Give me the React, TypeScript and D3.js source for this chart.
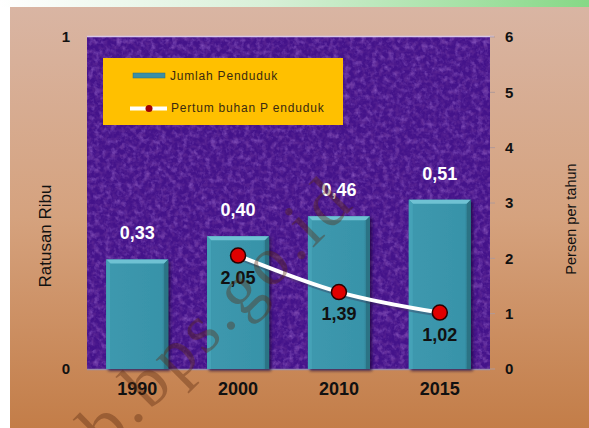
import * as d3 from 'd3';

const years = ['1990', '2000', '2010', '2015'];
const jumlah = [0.33, 0.4, 0.46, 0.51];
const jumlahLabels = ['0,33', '0,40', '0,46', '0,51'];
const growthYears = ['2000', '2010', '2015'];
const growth = [2.05, 1.39, 1.02];
const growthLabels = ['2,05', '1,39', '1,02'];
const leftTicks = [0, 1];
const rightTicks = [0, 1, 2, 3, 4, 5, 6];

const W = 589;
const H = 428;
const plot = { left: 87, right: 490, top: 37, bottom: 369 };
const font = '"Liberation Sans", Arial, sans-serif';

export default function App() {
  const x = d3
    .scaleBand<string>()
    .domain(years)
    .range([plot.left, plot.right])
    .paddingInner(0.385)
    .paddingOuter(0.19);
  const yL = d3.scaleLinear().domain([0, 1]).range([plot.bottom, plot.top]);
  const yR = d3.scaleLinear().domain([0, 6]).range([plot.bottom, plot.top]);
  const bw = x.bandwidth();

  const pts: [number, number][] = growthYears.map((yr, i) => [
    (x(yr) as number) + bw / 2,
    yR(growth[i]),
  ]);
  const line = d3.line().curve(d3.curveMonotoneX)(pts) as string;

  return (
    <svg
      width={W}
      height={H}
      style={{ position: 'absolute', left: 0, top: 0 }}
      fontFamily={font}
    >
      <defs>
        <linearGradient id="bg" x1="0" y1="0" x2="0" y2="1">
          <stop offset="0" stopColor="#d9b5a3" />
          <stop offset="0.5" stopColor="#d5a27e" />
          <stop offset="1" stopColor="#c37d48" />
        </linearGradient>
        <linearGradient id="strip" x1="0" y1="0" x2="1" y2="0">
          <stop offset="0" stopColor="#ffffff" />
          <stop offset="0.45" stopColor="#d8f0d8" />
          <stop offset="1" stopColor="#86d886" />
        </linearGradient>
        <linearGradient id="barg" x1="0" y1="0" x2="1" y2="0">
          <stop offset="0" stopColor="#3a8fa3" />
          <stop offset="0.08" stopColor="#3d98ae" />
          <stop offset="0.9" stopColor="#3893a9" />
          <stop offset="1" stopColor="#2a6e80" />
        </linearGradient>
        <filter id="tex" x="0" y="0" width="100%" height="100%">
          <feTurbulence type="fractalNoise" baseFrequency="0.18" numOctaves="3" seed="3" />
          <feColorMatrix
            type="matrix"
            values="0 0 0 0 0.4  0 0 0 0 0.18  0 0 0 0 0.68  1.3 0 0 0 -0.6"
          />
        </filter>
        <filter id="tex2" x="0" y="0" width="100%" height="100%">
          <feTurbulence type="fractalNoise" baseFrequency="0.24" numOctaves="2" seed="8" />
          <feColorMatrix
            type="matrix"
            values="0 0 0 0 0.14  0 0 0 0 0.03  0 0 0 0 0.32  1.4 0 0 0 -0.58"
          />
        </filter>
        <filter id="shadow" x="-20%" y="-20%" width="140%" height="140%">
          <feDropShadow dx="2" dy="2" stdDeviation="1.5" floodColor="#1a0630" floodOpacity="0.7" />
        </filter>
      </defs>

      <rect x={0} y={0} width={W} height={H} fill="#ffffff" />
      <rect x={10} y={7} width={W - 10} height={H - 7} fill="url(#bg)" />
      <rect x={0} y={0} width={W} height={7} fill="url(#strip)" />

      {/* plot area */}
      <rect
        x={plot.left}
        y={plot.top}
        width={plot.right - plot.left}
        height={plot.bottom - plot.top}
        fill="#44138a"
      />
      <rect
        x={plot.left}
        y={plot.top}
        width={plot.right - plot.left}
        height={plot.bottom - plot.top}
        filter="url(#tex)"
      />
      <rect
        x={plot.left}
        y={plot.top}
        width={plot.right - plot.left}
        height={plot.bottom - plot.top}
        filter="url(#tex2)"
      />
      <line x1={plot.left} x2={plot.right + 4} y1={plot.top - 0.5} y2={plot.top - 0.5} stroke="#d8c8e8" strokeWidth={1.5} />
      <line x1={plot.left} x2={plot.right} y1={plot.bottom + 0.5} y2={plot.bottom + 0.5} stroke="#9c8aa8" strokeWidth={1.5} />

      {/* right axis ticks */}
      {rightTicks.map((t) => (
        <g key={t}>
          <line x1={plot.right} x2={plot.right + 5} y1={yR(t)} y2={yR(t)} stroke="#b09a98" strokeWidth={1} />
          <text x={505} y={yR(t)} dy="0.36em" fontSize={15} fontWeight="bold" fill="#111">
            {t}
          </text>
        </g>
      ))}
      {leftTicks.map((t) => (
        <text key={t} x={66} y={yL(t)} dy="0.36em" fontSize={15} fontWeight="bold" fill="#111" textAnchor="middle">
          {t}
        </text>
      ))}

      {/* bars */}
      {years.map((yr, i) => {
        const bx = x(yr) as number;
        const by = yL(jumlah[i]);
        const bh = plot.bottom - by;
        const b = 4;
        return (
          <g key={yr}>
            <rect x={bx} y={by} width={bw} height={bh} fill="url(#barg)" filter="url(#shadow)" />
            <polygon
              points={`${bx},${by} ${bx + bw},${by} ${bx + bw - b},${by + b} ${bx + b},${by + b}`}
              fill="#6fc2d3"
            />
            <polygon
              points={`${bx + bw},${by} ${bx + bw},${plot.bottom} ${bx + bw - b},${plot.bottom} ${bx + bw - b},${by + b}`}
              fill="#2b7384"
            />
            <polygon
              points={`${bx},${by} ${bx + b},${by + b} ${bx + b},${plot.bottom} ${bx},${plot.bottom}`}
              fill="#45a2b7"
            />
            <text
              x={bx + bw / 2}
              y={by - 20}
              fontSize={18}
              fontWeight="bold"
              fill="#ffffff"
              textAnchor="middle"
            >
              {jumlahLabels[i]}
            </text>
          </g>
        );
      })}

      {/* growth line */}
      <path d={line} fill="none" stroke="#3a2a50" strokeWidth={5} opacity={0.35} transform="translate(1.5,2)" />
      <path d={line} fill="none" stroke="#ffffff" strokeWidth={4} />
      {pts.map((p, i) => (
        <g key={growthYears[i]}>
          <circle cx={p[0]} cy={p[1]} r={7.5} fill="#e00000" stroke="#2a0000" strokeWidth={1.5} />
          <text x={p[0]} y={p[1] + 28} fontSize={18} fontWeight="bold" fill="#111" textAnchor="middle">
            {growthLabels[i]}
          </text>
        </g>
      ))}

      {/* x labels */}
      {years.map((yr) => (
        <text
          key={yr}
          x={(x(yr) as number) + bw / 2}
          y={395}
          fontSize={18}
          fontWeight="bold"
          fill="#111"
          textAnchor="middle"
        >
          {yr}
        </text>
      ))}

      {/* legend */}
      <rect x={103} y={58} width={240} height={67} fill="#ffc000" />
      <rect x={133} y={73} width={32} height={5} fill="#3b8fa5" stroke="#2a6e80" strokeWidth={0.5} />
      <text x={170} y={80} fontSize={12} fill="#3a2a10" letterSpacing={0.8}>
        Jumlah Penduduk
      </text>
      <line x1={130} x2={167} y1={108.5} y2={108.5} stroke="#ffffff" strokeWidth={4} />
      <circle cx={149} cy={108.5} r={3.5} fill="#a00000" />
      <text x={171} y={112} fontSize={12} fill="#3a2a10" letterSpacing={0.8}>
        Pertum buhan P enduduk
      </text>

      {/* axis titles */}
      <text
        transform="translate(51,236) rotate(-90)"
        fontSize={17}
        fill="#111"
        textAnchor="middle"
      >
        Ratusan Ribu
      </text>
      <text
        transform="translate(576,219) rotate(-90)"
        fontSize={14.5}
        fill="#111"
        textAnchor="middle"
      >
        Persen per tahun
      </text>

      {/* watermark */}
      <text
        transform="translate(107,454) rotate(-45)"
        fontSize={70}
        letterSpacing={4}
        fontFamily='"Liberation Serif", "DejaVu Serif", serif'
        fill="#5a2a10"
        opacity={0.38}
      >
        b.bps.go.id
      </text>
    </svg>
  );
}
